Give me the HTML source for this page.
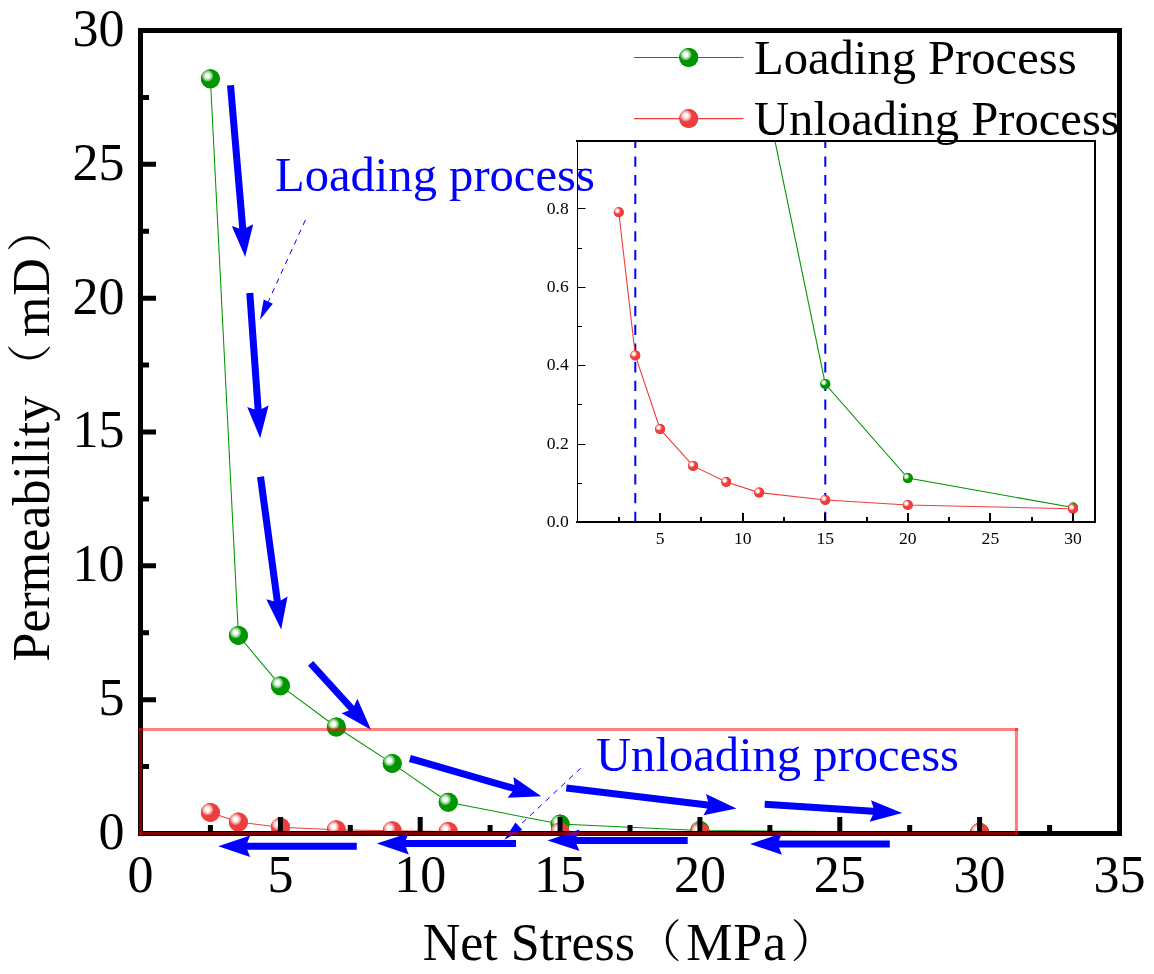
<!DOCTYPE html>
<html lang="en"><head><meta charset="utf-8"><title>Permeability vs Net Stress</title>
<style>html,body{margin:0;padding:0;background:#fff}body{width:1154px;height:974px;overflow:hidden}svg{display:block}text{font-family:'Liberation Serif','Noto Serif CJK SC',serif}</style>
</head><body>
<svg width="1154" height="974" viewBox="0 0 1154 974">
<defs>
<radialGradient id="sg" cx="0.35" cy="0.35" r="0.32" fx="0.35" fy="0.35"><stop offset="0" stop-color="#fff"/><stop offset="0.3" stop-color="#fff"/><stop offset="0.5" stop-color="#c8eac8"/><stop offset="0.8" stop-color="#70c470" /><stop offset="1" stop-color="#009600"/></radialGradient>
<radialGradient id="sr" cx="0.35" cy="0.35" r="0.32" fx="0.35" fy="0.35"><stop offset="0" stop-color="#fff"/><stop offset="0.3" stop-color="#fff"/><stop offset="0.5" stop-color="#fbd4d4"/><stop offset="0.8" stop-color="#f59090" /><stop offset="1" stop-color="#EF3D3D"/></radialGradient>
<clipPath id="cp"><rect x="140.5" y="30.5" width="979" height="803"/></clipPath>
<clipPath id="ci"><rect x="577.5" y="141" width="517.5" height="381"/></clipPath>
</defs>
<rect width="1154" height="974" fill="#fff"/>
<g clip-path="url(#cp)">
<polyline points="210.4,78.7 238.4,635.4 280.4,685.7 336.3,727.0 392.2,763.4 448.2,802.3 560.1,824.1 699.9,830.5 979.6,832.5" fill="none" stroke="#009600" stroke-width="1.05"/>
<circle cx="210.4" cy="78.7" r="9.5" fill="#009600"/><circle cx="210.4" cy="78.7" r="9.5" fill="url(#sg)"/>
<circle cx="238.4" cy="635.4" r="9.5" fill="#009600"/><circle cx="238.4" cy="635.4" r="9.5" fill="url(#sg)"/>
<circle cx="280.4" cy="685.7" r="9.5" fill="#009600"/><circle cx="280.4" cy="685.7" r="9.5" fill="url(#sg)"/>
<circle cx="336.3" cy="727.0" r="9.5" fill="#009600"/><circle cx="336.3" cy="727.0" r="9.5" fill="url(#sg)"/>
<circle cx="392.2" cy="763.4" r="9.5" fill="#009600"/><circle cx="392.2" cy="763.4" r="9.5" fill="url(#sg)"/>
<circle cx="448.2" cy="802.3" r="9.5" fill="#009600"/><circle cx="448.2" cy="802.3" r="9.5" fill="url(#sg)"/>
<circle cx="560.1" cy="824.1" r="9.5" fill="#009600"/><circle cx="560.1" cy="824.1" r="9.5" fill="url(#sg)"/>
<circle cx="699.9" cy="830.5" r="9.5" fill="#009600"/><circle cx="699.9" cy="830.5" r="9.5" fill="url(#sg)"/>
<circle cx="979.6" cy="832.5" r="9.5" fill="#009600"/><circle cx="979.6" cy="832.5" r="9.5" fill="url(#sg)"/>
<polyline points="210.4,812.4 238.4,822.1 280.4,827.2 336.3,829.7 392.2,830.8 448.2,831.5 560.1,832.0 699.9,832.3 979.6,832.6" fill="none" stroke="#EF3D3D" stroke-width="1.05"/>
<circle cx="210.4" cy="812.4" r="9.5" fill="#EF3D3D"/><circle cx="210.4" cy="812.4" r="9.5" fill="url(#sr)"/>
<circle cx="238.4" cy="822.1" r="9.5" fill="#EF3D3D"/><circle cx="238.4" cy="822.1" r="9.5" fill="url(#sr)"/>
<circle cx="280.4" cy="827.2" r="9.5" fill="#EF3D3D"/><circle cx="280.4" cy="827.2" r="9.5" fill="url(#sr)"/>
<circle cx="336.3" cy="829.7" r="9.5" fill="#EF3D3D"/><circle cx="336.3" cy="829.7" r="9.5" fill="url(#sr)"/>
<circle cx="392.2" cy="830.8" r="9.5" fill="#EF3D3D"/><circle cx="392.2" cy="830.8" r="9.5" fill="url(#sr)"/>
<circle cx="448.2" cy="831.5" r="9.5" fill="#EF3D3D"/><circle cx="448.2" cy="831.5" r="9.5" fill="url(#sr)"/>
<circle cx="560.1" cy="832.0" r="9.5" fill="#EF3D3D"/><circle cx="560.1" cy="832.0" r="9.5" fill="url(#sr)"/>
<circle cx="699.9" cy="832.3" r="9.5" fill="#EF3D3D"/><circle cx="699.9" cy="832.3" r="9.5" fill="url(#sr)"/>
<circle cx="979.6" cy="832.6" r="9.5" fill="#EF3D3D"/><circle cx="979.6" cy="832.6" r="9.5" fill="url(#sr)"/>
</g>
<line x1="634" y1="57.5" x2="743.5" y2="57.5" stroke="#009600" stroke-width="1.2"/>
<circle cx="688.7" cy="57.5" r="9.5" fill="#009600"/><circle cx="688.7" cy="57.5" r="9.5" fill="url(#sg)"/>
<text x="754" y="73.5" font-size="48.6">Loading Process</text>
<line x1="634" y1="118.6" x2="743.5" y2="118.6" stroke="#EF3D3D" stroke-width="1.2"/>
<circle cx="688.7" cy="118.6" r="9.5" fill="#EF3D3D"/><circle cx="688.7" cy="118.6" r="9.5" fill="url(#sr)"/>
<text x="754" y="134.6" font-size="48.6">Unloading Process</text>
<g stroke="#000" stroke-width="5" fill="none">
<rect x="140.5" y="30.5" width="979" height="803"/>
<path d="M140.5 831.0V817.0M210.4 831.0V825.0M280.4 831.0V817.0M350.3 831.0V825.0M420.2 831.0V817.0M490.1 831.0V825.0M560.1 831.0V817.0M630.0 831.0V825.0M699.9 831.0V817.0M769.9 831.0V825.0M839.8 831.0V817.0M909.7 831.0V825.0M979.6 831.0V817.0M1049.6 831.0V825.0M1119.5 831.0V817.0M143.0 833.5H156.0M143.0 766.6H149.0M143.0 699.7H156.0M143.0 632.8H149.0M143.0 565.8H156.0M143.0 498.9H149.0M143.0 432.0H156.0M143.0 365.1H149.0M143.0 298.2H156.0M143.0 231.2H149.0M143.0 164.3H156.0M143.0 97.4H149.0M143.0 30.5H156.0"/>
</g>
<polygon points="227.0,85.6 239.2,228.4 231.8,226.0 245.2,257.0 253.2,224.2 246.2,227.8 234.0,85.0" fill="#0000FF"/>
<polygon points="246.3,293.3 254.6,409.5 247.2,407.0 260.2,438.2 268.6,405.5 261.6,409.0 253.3,292.7" fill="#0000FF"/>
<polygon points="257.0,477.2 273.8,601.3 266.3,599.3 281.2,629.6 287.6,596.4 280.8,600.4 264.0,476.2" fill="#0000FF"/>
<polygon points="308.0,665.7 348.9,710.6 341.5,713.3 371.0,729.7 357.4,698.8 354.1,705.9 313.2,660.9" fill="#0000FF"/>
<polygon points="408.9,761.9 512.5,791.6 507.6,797.8 541.3,796.3 513.5,777.1 514.4,784.9 410.9,755.1" fill="#0000FF"/>
<polygon points="565.9,791.5 707.3,808.5 703.4,815.3 736.5,808.5 706.0,794.0 708.1,801.6 566.7,784.5" fill="#0000FF"/>
<polygon points="764.5,807.7 873.0,814.7 869.6,821.8 902.2,813.1 871.0,800.3 873.5,807.7 764.9,800.7" fill="#0000FF"/>
<polygon points="889.8,840.5 779.0,840.5 782.0,833.2 750.0,844.0 782.0,854.8 779.0,847.5 889.8,847.5" fill="#0000FF"/>
<polygon points="687.7,836.9 576.5,836.9 579.5,829.6 547.5,840.4 579.5,851.1 576.5,843.9 687.7,843.9" fill="#0000FF"/>
<polygon points="516.0,840.1 405.8,840.1 408.8,832.9 376.8,843.6 408.8,854.4 405.8,847.1 516.0,847.1" fill="#0000FF"/>
<polygon points="356.8,842.7 247.2,842.7 250.2,835.5 218.2,846.2 250.2,857.0 247.2,849.7 356.8,849.7" fill="#0000FF"/>
<line x1="305.4" y1="220.0" x2="268.3" y2="301.6" stroke="#0000FF" stroke-width="1" stroke-dasharray="5.5 5.2"/><polygon points="260.0,319.8 263.7,299.5 272.8,303.7" fill="#0000FF"/>
<line x1="580.8" y1="768.1" x2="518.9" y2="826.1" stroke="#0000FF" stroke-width="1" stroke-dasharray="5.5 5.2"/><polygon points="504.3,839.8 515.5,822.5 522.3,829.8" fill="#0000FF"/>
<g stroke="#f00" stroke-opacity="0.5" stroke-width="3.2" stroke-linecap="square" fill="none"><line x1="140.5" y1="729.5" x2="1016.5" y2="729.5"/><line x1="140.5" y1="833.5" x2="1016.5" y2="833.5"/><line x1="140.5" y1="729.5" x2="140.5" y2="833.5"/><line x1="1016.5" y1="729.5" x2="1016.5" y2="833.5"/></g>
<g font-size="52" fill="#000">
<text x="140.5" y="892" text-anchor="middle">0</text>
<text x="280.4" y="892" text-anchor="middle">5</text>
<text x="420.2" y="892" text-anchor="middle">10</text>
<text x="560.1" y="892" text-anchor="middle">15</text>
<text x="699.9" y="892" text-anchor="middle">20</text>
<text x="839.8" y="892" text-anchor="middle">25</text>
<text x="979.6" y="892" text-anchor="middle">30</text>
<text x="1119.5" y="892" text-anchor="middle">35</text>
<text x="124.5" y="848.8" text-anchor="end">0</text>
<text x="124.5" y="715.0" text-anchor="end">5</text>
<text x="124.5" y="581.1" text-anchor="end">10</text>
<text x="124.5" y="447.3" text-anchor="end">15</text>
<text x="124.5" y="313.5" text-anchor="end">20</text>
<text x="124.5" y="179.6" text-anchor="end">25</text>
<text x="124.5" y="45.8" text-anchor="end">30</text>
</g>
<text x="422.7" y="959.5" font-size="52">Net Stress<tspan x="636.4" dy="-2" font-size="45">（</tspan><tspan x="686.2" dy="2" letter-spacing="0.8">MPa</tspan><tspan x="790.8" dy="-2" font-size="45">）</tspan></text>
<text transform="translate(49,661) rotate(-90)" x="-0.5" y="0" font-size="52">Permeability<tspan x="272.2" dy="-2" font-size="45">（</tspan><tspan x="324" dy="2" letter-spacing="0.8">mD</tspan><tspan x="408.9" dy="-2" font-size="45">）</tspan></text>
<g clip-path="url(#ci)">
<path d="M635.3 522.0V136.0M825.3 522.0V136.0" stroke="#0000FF" stroke-width="2" stroke-dasharray="10.3 8.4" fill="none"/>
<polyline points="618.8,-10532.4 635.3,-2378.8 660.1,-1641.8 693.1,-1038.2 726.2,-505.0 759.2,64.9 825.3,384.0 907.8,478.1 1073.0,507.5" fill="none" stroke="#009600" stroke-width="1.1"/>
<circle cx="618.8" cy="-10532.4" r="5" fill="#009600"/><circle cx="618.8" cy="-10532.4" r="5" fill="url(#sg)"/>
<circle cx="635.3" cy="-2378.8" r="5" fill="#009600"/><circle cx="635.3" cy="-2378.8" r="5" fill="url(#sg)"/>
<circle cx="660.1" cy="-1641.8" r="5" fill="#009600"/><circle cx="660.1" cy="-1641.8" r="5" fill="url(#sg)"/>
<circle cx="693.1" cy="-1038.2" r="5" fill="#009600"/><circle cx="693.1" cy="-1038.2" r="5" fill="url(#sg)"/>
<circle cx="726.2" cy="-505.0" r="5" fill="#009600"/><circle cx="726.2" cy="-505.0" r="5" fill="url(#sg)"/>
<circle cx="759.2" cy="64.9" r="5" fill="#009600"/><circle cx="759.2" cy="64.9" r="5" fill="url(#sg)"/>
<circle cx="825.3" cy="384.0" r="5" fill="#009600"/><circle cx="825.3" cy="384.0" r="5" fill="url(#sg)"/>
<circle cx="907.8" cy="478.1" r="5" fill="#009600"/><circle cx="907.8" cy="478.1" r="5" fill="url(#sg)"/>
<circle cx="1073.0" cy="507.5" r="5" fill="#009600"/><circle cx="1073.0" cy="507.5" r="5" fill="url(#sg)"/>
<polyline points="618.8,212.3 635.3,355.4 660.1,429.1 693.1,465.9 726.2,482.0 759.2,492.6 825.3,500.0 907.8,505.0 1073.0,508.8" fill="none" stroke="#EF3D3D" stroke-width="1.1"/>
<circle cx="618.8" cy="212.3" r="5" fill="#EF3D3D"/><circle cx="618.8" cy="212.3" r="5" fill="url(#sr)"/>
<circle cx="635.3" cy="355.4" r="5" fill="#EF3D3D"/><circle cx="635.3" cy="355.4" r="5" fill="url(#sr)"/>
<circle cx="660.1" cy="429.1" r="5" fill="#EF3D3D"/><circle cx="660.1" cy="429.1" r="5" fill="url(#sr)"/>
<circle cx="693.1" cy="465.9" r="5" fill="#EF3D3D"/><circle cx="693.1" cy="465.9" r="5" fill="url(#sr)"/>
<circle cx="726.2" cy="482.0" r="5" fill="#EF3D3D"/><circle cx="726.2" cy="482.0" r="5" fill="url(#sr)"/>
<circle cx="759.2" cy="492.6" r="5" fill="#EF3D3D"/><circle cx="759.2" cy="492.6" r="5" fill="url(#sr)"/>
<circle cx="825.3" cy="500.0" r="5" fill="#EF3D3D"/><circle cx="825.3" cy="500.0" r="5" fill="url(#sr)"/>
<circle cx="907.8" cy="505.0" r="5" fill="#EF3D3D"/><circle cx="907.8" cy="505.0" r="5" fill="url(#sr)"/>
<circle cx="1073.0" cy="508.8" r="5" fill="#EF3D3D"/><circle cx="1073.0" cy="508.8" r="5" fill="url(#sr)"/>
</g>
<g stroke="#000" fill="none">
<path d="M576.0 141.0H1096.0M576.0 522.0H1096.0" stroke-width="2"/>
<path d="M577.5 141.0V522.0" stroke-width="1"/><path d="M1095.0 141.0V522.0" stroke-width="2"/>
<path d="M619.0 522.0V517.0M660.0 522.0V513.0M701.0 522.0V517.0M743.0 522.0V513.0M784.0 522.0V517.0M825.0 522.0V513.0M867.0 522.0V517.0M908.0 522.0V513.0M949.0 522.0V517.0M990.0 522.0V513.0M1032.0 522.0V517.0M1073.0 522.0V513.0" stroke-width="2"/>
<path d="M577.5 522.5H585.5M577.5 483.5H582.0M577.5 444.5H585.5M577.5 404.5H582.0M577.5 365.5H585.5M577.5 326.5H582.0M577.5 287.5H585.5M577.5 248.5H582.0M577.5 208.5H585.5M577.5 169.5H582.0" stroke-width="1"/>
</g>
<g font-size="17.6" fill="#000">
<text x="660.1" y="544" text-anchor="middle">5</text>
<text x="742.7" y="544" text-anchor="middle">10</text>
<text x="825.3" y="544" text-anchor="middle">15</text>
<text x="907.8" y="544" text-anchor="middle">20</text>
<text x="990.4" y="544" text-anchor="middle">25</text>
<text x="1073.0" y="544" text-anchor="middle">30</text>
<text x="568.7" y="527.2" text-anchor="end">0.0</text>
<text x="568.7" y="448.8" text-anchor="end">0.2</text>
<text x="568.7" y="370.4" text-anchor="end">0.4</text>
<text x="568.7" y="292.0" text-anchor="end">0.6</text>
<text x="568.7" y="213.6" text-anchor="end">0.8</text>
</g>
<text x="275" y="190.5" font-size="48.6" fill="#0000FF">Loading process</text>
<text x="596" y="771" font-size="48.6" fill="#0000FF">Unloading process</text>
</svg></body></html>
